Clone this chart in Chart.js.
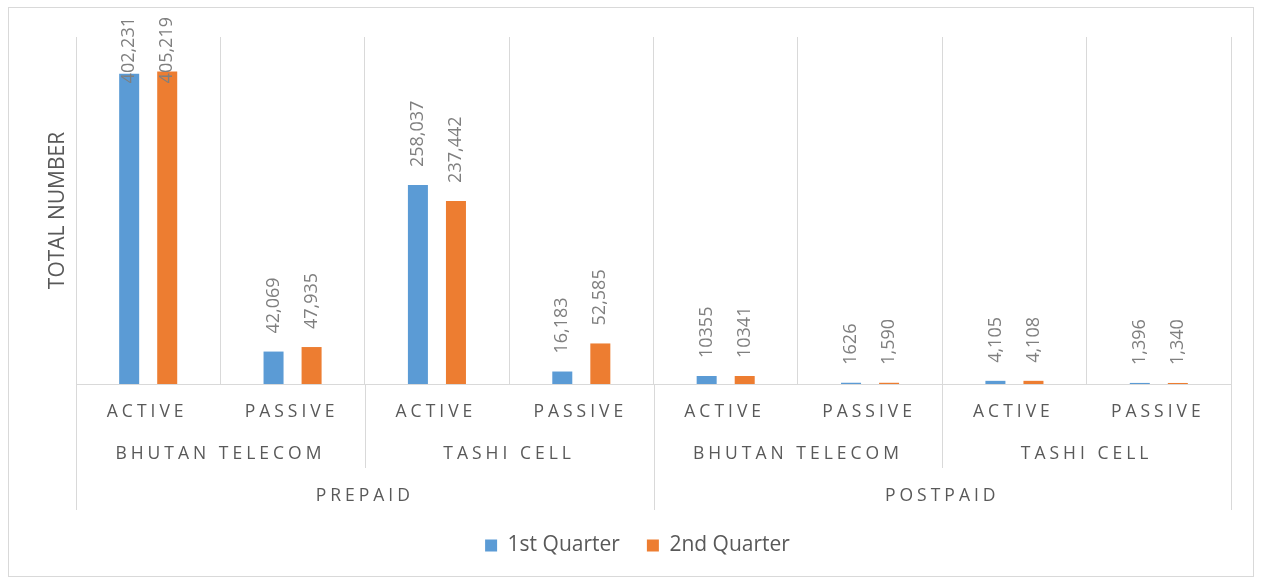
<!DOCTYPE html>
<html>
<head>
    <meta charset="UTF-8">
    <title>Total Number of Subscribers</title>
    <style>
        html, body { margin: 0; padding: 0; background: #fff; }
        #wrap { width: 1262px; height: 581px; }
    </style>
</head>
<body>
    <div id="wrap"><canvas id="myChart" width="1262" height="581"></canvas></div>

    <script src="https://cdn.jsdelivr.net/npm/chart.js@4.4.1/dist/chart.umd.min.js"></script>
    <script>
        // categories (three levels, Excel multi-level axis)
        var statusLabels = ['ACTIVE', 'PASSIVE', 'ACTIVE', 'PASSIVE', 'ACTIVE', 'PASSIVE', 'ACTIVE', 'PASSIVE'];
        var operatorLabels = ['BHUTAN TELECOM', 'TASHI CELL', 'BHUTAN TELECOM', 'TASHI CELL'];
        var planLabels = ['PREPAID', 'POSTPAID'];

        // series
        var quarter1 = [402231, 42069, 258037, 16183, 10355, 1626, 4105, 1396];
        var quarter2 = [405219, 47935, 237442, 52585, 10341, 1590, 4108, 1340];
        // data labels as shown (some without thousands separator)
        var quarter1Text = ['402,231', '42,069', '258,037', '16,183', '10355', '1626', '4,105', '1,396'];
        var quarter2Text = ['405,219', '47,935', '237,442', '52,585', '10341', '1,590', '4,108', '1,340'];

        var FONT = "'Open Sans', sans-serif";
        var GRID = '#d9d9d9';
        var TEXT = '#595959';

        var frame = {
            id: 'frame',
            beforeDraw: function(chart) {
                var ctx = chart.ctx;
                ctx.save();
                ctx.fillStyle = '#fff';
                ctx.fillRect(0, 0, chart.width, chart.height);
                ctx.strokeStyle = GRID;
                ctx.lineWidth = 1;
                ctx.strokeRect(8.5, 7.5, 1245, 569);
                ctx.restore();
            }
        };

        // legend sits a bit right of the canvas centre in the original
        var legendShift = {
            id: 'legendShift',
            afterLayout: function(chart) {
                chart.legend.left += 17;
                chart.legend.right += 17;
            }
        };

        // multi-level category labels + separators under the plot
        var multiAxis = {
            id: 'multiAxis',
            afterDraw: function(chart) {
                var ctx = chart.ctx, x = chart.scales.x, area = chart.chartArea;
                var n = statusLabels.length;
                var edge = function(i) {
                    if (i <= 0) return area.left;
                    if (i >= n) return area.right;
                    return (x.getPixelForValue(i - 1) + x.getPixelForValue(i)) / 2;
                };
                var y0 = area.bottom;
                ctx.save();
                ctx.strokeStyle = GRID;
                ctx.lineWidth = 1;
                [0, 4, 8].forEach(function(i) {
                    var px = Math.round(edge(i)) + 0.5;
                    ctx.beginPath(); ctx.moveTo(px, y0); ctx.lineTo(px, y0 + 126); ctx.stroke();
                });
                [2, 6].forEach(function(i) {
                    var px = Math.round(edge(i)) + 0.5;
                    ctx.beginPath(); ctx.moveTo(px, y0); ctx.lineTo(px, y0 + 84); ctx.stroke();
                });

                ctx.fillStyle = TEXT;
                ctx.font = '17.5px ' + FONT;
                ctx.letterSpacing = '4px';
                ctx.textAlign = 'center';
                ctx.textBaseline = 'middle';
                statusLabels.forEach(function(t, i) {
                    ctx.fillText(t, x.getPixelForValue(i) - 1, y0 + 28);
                });
                operatorLabels.forEach(function(t, j) {
                    ctx.fillText(t, (edge(j * 2) + edge(j * 2 + 2)) / 2, y0 + 70);
                });
                planLabels.forEach(function(t, k) {
                    ctx.fillText(t, (edge(k * 4) + edge(k * 4 + 4)) / 2, y0 + 112);
                });
                ctx.restore();
            }
        };

        // rotated value labels above bars
        var barValues = {
            id: 'barValues',
            afterDatasetsDraw: function(chart) {
                var ctx = chart.ctx;
                ctx.save();
                ctx.font = '18px ' + FONT;
                ctx.fillStyle = '#7f7f7f';
                ctx.textAlign = 'left';
                ctx.textBaseline = 'middle';
                chart.data.datasets.forEach(function(ds, d) {
                    chart.getDatasetMeta(d).data.forEach(function(bar, i) {
                        var txt = ds.valueText[i];
                        var w = ctx.measureText(txt).width;
                        var bottom = bar.y - 18;
                        if (bottom - w < 17) bottom = 17 + w;
                        ctx.save();
                        ctx.translate(bar.x, bottom);
                        ctx.rotate(-Math.PI / 2);
                        ctx.fillText(txt, 0, 0);
                        ctx.restore();
                    });
                });
                ctx.restore();
            }
        };

        new Chart('myChart', {
            type: 'bar',
            data: {
                labels: statusLabels,
                datasets: [{
                    label: '1st Quarter',
                    data: quarter1,
                    valueText: quarter1Text,
                    backgroundColor: '#5b9bd5',
                    categoryPercentage: 0.527,
                    barPercentage: 0.526
                }, {
                    label: '2nd Quarter',
                    data: quarter2,
                    valueText: quarter2Text,
                    backgroundColor: '#ed7d31',
                    categoryPercentage: 0.527,
                    barPercentage: 0.526
                }]
            },
            options: {
                responsive: false,
                animation: false,
                layout: { padding: { top: 37, right: 31, left: 10, bottom: 15 } },
                plugins: {
                    tooltip: { enabled: false },
                    legend: {
                        position: 'bottom',
                        labels: {
                            boxWidth: 12,
                            boxHeight: 12,
                            padding: 27,
                            color: TEXT,
                            font: { family: FONT, size: 21 }
                        }
                    }
                },
                scales: {
                    x: {
                        ticks: { display: false },
                        grid: { offset: true, color: GRID, drawTicks: false },
                        border: { display: true, color: GRID },
                        afterFit: function(s) { s.height = 124; }
                    },
                    y: {
                        min: 0,
                        max: 450000,
                        ticks: { display: false },
                        grid: { display: false },
                        border: { display: false },
                        title: {
                            display: true,
                            text: 'TOTAL NUMBER',
                            color: TEXT,
                            font: { family: FONT, size: 21 },
                            padding: { top: 35, bottom: 0 }
                        },
                        afterFit: function(s) { s.width = 66; }
                    }
                }
            },
            plugins: [frame, legendShift, multiAxis, barValues]
        });
    </script>
</body>
</html>
